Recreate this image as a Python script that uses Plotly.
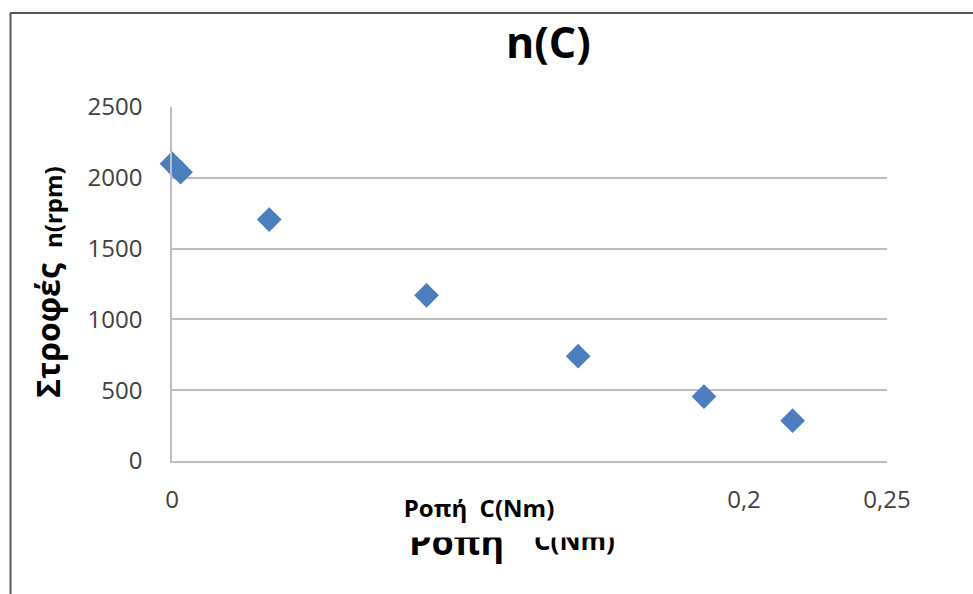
import plotly.graph_objects as go

# Data
torque_nm = [0.0, 0.003, 0.034, 0.089, 0.142, 0.186, 0.217]
speed_rpm = [2100, 2040, 1705, 1170, 740, 455, 285]

x_tick_vals = [0, 0.2, 0.25]
x_tick_text = ["0", "0,2", "0,25"]
y_tick_vals = [0, 500, 1000, 1500, 2000, 2500]
y_tick_text = ["0", "500", "1000", "1500", "2000", "2500"]

W, H = 973, 594
L, R, T, B = 172, 86, 107, 133
PW, PH = W - L - R, H - T - B


def px(xp):
    return (xp - L) / PW


def py(yp):
    return (H - B - yp) / PH


FONT = "Open Sans"
GRID = "#BDBDBD"

fig = go.Figure()
fig.add_trace(go.Scatter(
    x=torque_nm, y=speed_rpm, mode="markers",
    marker=dict(symbol="diamond", size=19, color="#4A7EBD", line=dict(width=0)),
    cliponaxis=False, showlegend=False,
))

annotations = [
    # title
    dict(text="<b>n(C)</b>", x=px(548), y=py(42), font=dict(size=43, color="#000000", family=FONT)),
    # y-axis title (two parts)
    dict(text="<b>Στροφές</b>", x=px(47), y=py(331), textangle=-90,
         font=dict(size=32, color="#000000", family=FONT)),
    dict(text="<b>n(rpm)</b>", x=px(52), y=py(207), textangle=-90,
         font=dict(size=24, color="#000000", family=FONT)),
    # lower (partly hidden) x title
    dict(text="<b>Ροπη</b>", x=px(456), y=py(541), font=dict(size=36, color="#000000", family=FONT)),
    dict(text="<b>C(Nm)</b>", x=px(574), y=py(540), font=dict(size=26, color="#000000", family=FONT)),
    # upper x title with white box masking the lower one
    dict(text="<b>Ροπή  C(Nm)</b>", x=px(479), y=py(507.5), width=366, height=59,
         bgcolor="#FFFFFF", borderpad=0, valign="middle",
         font=dict(size=24, color="#000000", family=FONT)),
]
for a in annotations:
    a.update(xref="paper", yref="paper", xanchor="center", yanchor="middle", showarrow=False)

shapes = [
    dict(type="line", xref="paper", yref="paper", x0=px(10.5), x1=px(10.5), y0=py(13), y1=py(600),
         line=dict(color="#555555", width=2)),
    dict(type="line", xref="paper", yref="paper", x0=px(10), x1=px(980), y0=py(13), y1=py(13),
         line=dict(color="#555555", width=2)),
]

fig.update_layout(
    width=W, height=H,
    margin=dict(l=L, r=R, t=T, b=B, pad=0),
    paper_bgcolor="#FFFFFF", plot_bgcolor="#FFFFFF",
    font=dict(family=FONT, color="#404040"),
    annotations=annotations, shapes=shapes,
    xaxis=dict(range=[0, 0.25], tickvals=x_tick_vals, ticktext=x_tick_text,
               showgrid=False, zeroline=False, showline=True, linecolor=GRID, linewidth=1.5,
               ticks="", ticklabelstandoff=16, tickfont=dict(size=24, color="#404040", family=FONT)),
    yaxis=dict(range=[0, 2500], tickvals=y_tick_vals, ticktext=y_tick_text,
               showgrid=True, gridcolor=GRID, gridwidth=1.5, zeroline=False,
               showline=True, linecolor=GRID, linewidth=1.5,
               ticks="", ticklabelstandoff=23, tickfont=dict(size=24, color="#404040", family=FONT)),
)

fig.write_html("out.html")
